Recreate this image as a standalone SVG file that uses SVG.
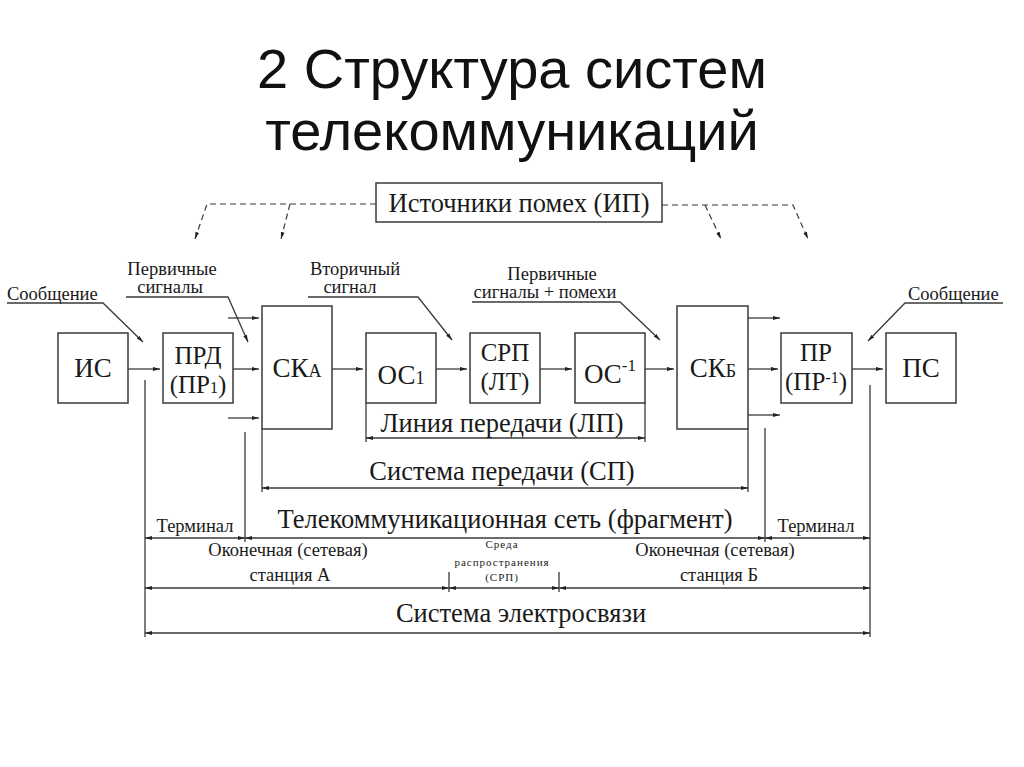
<svg xmlns="http://www.w3.org/2000/svg" width="1024" height="767" viewBox="0 0 1024 767">
<defs>
<style>
.b{fill:#fff;stroke:#3a3a3a;stroke-width:1.5}
.l{stroke:#3a3a3a;stroke-width:1.3;fill:none}
.d{stroke:#3a3a3a;stroke-width:1.2;fill:none;stroke-dasharray:6 4}
.t{font-family:"Liberation Serif","Times New Roman",serif;fill:#1a1a1a}
.bx{font-size:27px;text-anchor:middle}
.b2{font-size:25px;text-anchor:middle}
.lg{font-size:26.5px;text-anchor:middle}
.sm{font-size:18.5px;text-anchor:middle}
.ti{font-family:"Liberation Sans",Arial,sans-serif;font-size:56px;fill:#111;text-anchor:middle}
</style>
<marker id="a" markerUnits="userSpaceOnUse" markerWidth="8" markerHeight="6" refX="7" refY="2.5" orient="auto-start-reverse">
<path d="M0,0.6 L7,2.5 L0,4.4 z" fill="#222"/>
</marker>
</defs>
<rect width="1024" height="767" fill="#fff"/>
<g id="title">
<text class="ti" x="512" y="88">2 Структура систем</text>
<text class="ti" x="512" y="150">телекоммуникаций</text>
</g>
<g id="connectors">
<polyline class="d" points="376,204 207,204 195,239" marker-end="url(#a)"/>
<polyline class="d" points="290,204 281,239" marker-end="url(#a)"/>
<polyline class="d" points="662,205 793,205 808,239" marker-end="url(#a)"/>
<polyline class="d" points="705,205 721,239" marker-end="url(#a)"/>
<line class="l" x1="128" y1="369" x2="160" y2="369" marker-end="url(#a)"/>
<line class="l" x1="233" y1="369" x2="259" y2="369" marker-end="url(#a)"/>
<line class="l" x1="228" y1="318" x2="259" y2="318" marker-end="url(#a)"/>
<line class="l" x1="228" y1="418" x2="259" y2="418" marker-end="url(#a)"/>
<line class="l" x1="332" y1="369" x2="363" y2="369" marker-end="url(#a)"/>
<line class="l" x1="436" y1="369" x2="467" y2="369" marker-end="url(#a)"/>
<line class="l" x1="540" y1="369" x2="572" y2="369" marker-end="url(#a)"/>
<line class="l" x1="645" y1="369" x2="674" y2="369" marker-end="url(#a)"/>
<line class="l" x1="748" y1="318" x2="780" y2="318" marker-end="url(#a)"/>
<line class="l" x1="748" y1="369" x2="778" y2="369" marker-end="url(#a)"/>
<line class="l" x1="748" y1="415" x2="780" y2="415" marker-end="url(#a)"/>
<line class="l" x1="852" y1="369" x2="883" y2="369" marker-end="url(#a)"/>
<polyline class="l" points="7,303 103,303 143,342" marker-end="url(#a)"/>
<polyline class="l" points="126,297 228,297 248,342" marker-end="url(#a)"/>
<polyline class="l" points="308,297 418,297 452,340" marker-end="url(#a)"/>
<polyline class="l" points="472,302 620,302 660,340" marker-end="url(#a)"/>
<polyline class="l" points="1003,303 905,303 868,341" marker-end="url(#a)"/>
<line class="l" x1="145" y1="380" x2="145" y2="637"/>
<line class="l" x1="245" y1="432" x2="245" y2="542"/>
<line class="l" x1="765" y1="428" x2="765" y2="542"/>
<line class="l" x1="870" y1="385" x2="870" y2="637"/>
<line class="l" x1="366" y1="403" x2="366" y2="442"/>
<line class="l" x1="645" y1="403" x2="645" y2="442"/>
<line class="l" x1="262" y1="429" x2="262" y2="492"/>
<line class="l" x1="748" y1="429" x2="748" y2="492"/>
<line class="l" x1="449" y1="572" x2="449" y2="592"/>
<line class="l" x1="559" y1="572" x2="559" y2="592"/>
<line class="l" x1="366" y1="438" x2="645" y2="438" marker-start="url(#a)" marker-end="url(#a)"/>
<line class="l" x1="262" y1="488" x2="748" y2="488" marker-start="url(#a)" marker-end="url(#a)"/>
<line class="l" x1="145" y1="538" x2="245" y2="538" marker-start="url(#a)" marker-end="url(#a)"/>
<line class="l" x1="245" y1="538" x2="765" y2="538" marker-start="url(#a)" marker-end="url(#a)"/>
<line class="l" x1="765" y1="538" x2="870" y2="538" marker-start="url(#a)" marker-end="url(#a)"/>
<line class="l" x1="145" y1="588" x2="449" y2="588" marker-start="url(#a)" marker-end="url(#a)"/>
<line class="l" x1="449" y1="588" x2="559" y2="588" marker-start="url(#a)" marker-end="url(#a)"/>
<line class="l" x1="559" y1="588" x2="870" y2="588" marker-start="url(#a)" marker-end="url(#a)"/>
<line class="l" x1="145" y1="633" x2="870" y2="633" marker-start="url(#a)" marker-end="url(#a)"/>
</g>
<g id="node-ip"><rect class="b" x="376" y="183" width="286" height="39"/><text class="t lg" x="519" y="212">Источники помех (ИП)</text></g>
<g id="node-is"><rect class="b" x="58" y="333" width="70" height="70"/><text class="t bx" x="93" y="377">ИС</text></g>
<g id="node-prd"><rect class="b" x="163" y="333" width="70" height="70"/><text class="t b2" x="198" y="364">ПРД</text><text class="t b2" x="198" y="393">(ПР<tspan font-size="16">1</tspan>)</text></g>
<g id="node-ska"><rect class="b" x="262" y="306" width="70" height="123"/><text class="t bx" x="297" y="377">СК<tspan font-size="18">А</tspan></text></g>
<g id="node-os1"><rect class="b" x="366" y="333" width="70" height="70"/><text class="t bx" x="401" y="384">ОС<tspan font-size="18">1</tspan></text></g>
<g id="node-srp"><rect class="b" x="470" y="333" width="70" height="70"/><text class="t b2" x="505" y="361">СРП</text><text class="t b2" x="505" y="390">(ЛТ)</text></g>
<g id="node-os-1"><rect class="b" x="575" y="333" width="70" height="70"/><text class="t bx" x="610" y="383">ОС<tspan font-size="17" dy="-12">-1</tspan></text></g>
<g id="node-skb"><rect class="b" x="677" y="306" width="71" height="123"/><text class="t bx" x="713" y="377">СК<tspan font-size="18">Б</tspan></text></g>
<g id="node-pr"><rect class="b" x="781" y="333" width="71" height="70"/><text class="t b2" x="816" y="361">ПР</text><text class="t b2" x="816" y="390">(ПР<tspan font-size="16" dy="-7">-1</tspan><tspan dy="7">)</tspan></text></g>
<g id="node-ps"><rect class="b" x="886" y="333" width="70" height="70"/><text class="t bx" x="921" y="377">ПС</text></g>
<g id="labels">
<text class="t" font-size="18.5" x="7" y="300">Сообщение</text>
<text class="t sm" x="172" y="275">Первичные</text>
<text class="t sm" x="170" y="293">сигналы</text>
<text class="t sm" x="355" y="275">Вторичный</text>
<text class="t sm" x="350" y="293">сигнал</text>
<text class="t sm" x="552" y="280">Первичные</text>
<text class="t sm" x="545" y="298">сигналы + помехи</text>
<text class="t" font-size="18.5" x="908" y="300">Сообщение</text>
<text class="t lg" x="502" y="432">Линия передачи (ЛП)</text>
<text class="t lg" x="502" y="480">Система передачи (СП)</text>
<text class="t lg" x="505" y="528">Телекоммуникационная сеть (фрагмент)</text>
<text class="t sm" x="195" y="532">Терминал</text>
<text class="t sm" x="816" y="532">Терминал</text>
<text class="t sm" x="288" y="556">Оконечная (сетевая)</text>
<text class="t sm" x="290" y="581">станция А</text>
<text class="t sm" x="715" y="556">Оконечная (сетевая)</text>
<text class="t sm" x="719" y="581">станция Б</text>
<text class="t" font-size="11" letter-spacing="1" text-anchor="middle" x="502" y="548">Среда</text>
<text class="t" font-size="11" letter-spacing="1" text-anchor="middle" x="502" y="566">распространения</text>
<text class="t" font-size="11" letter-spacing="1" text-anchor="middle" x="502" y="581">(СРП)</text>
<text class="t lg" x="521" y="622">Система электросвязи</text>
</g>
</svg>
